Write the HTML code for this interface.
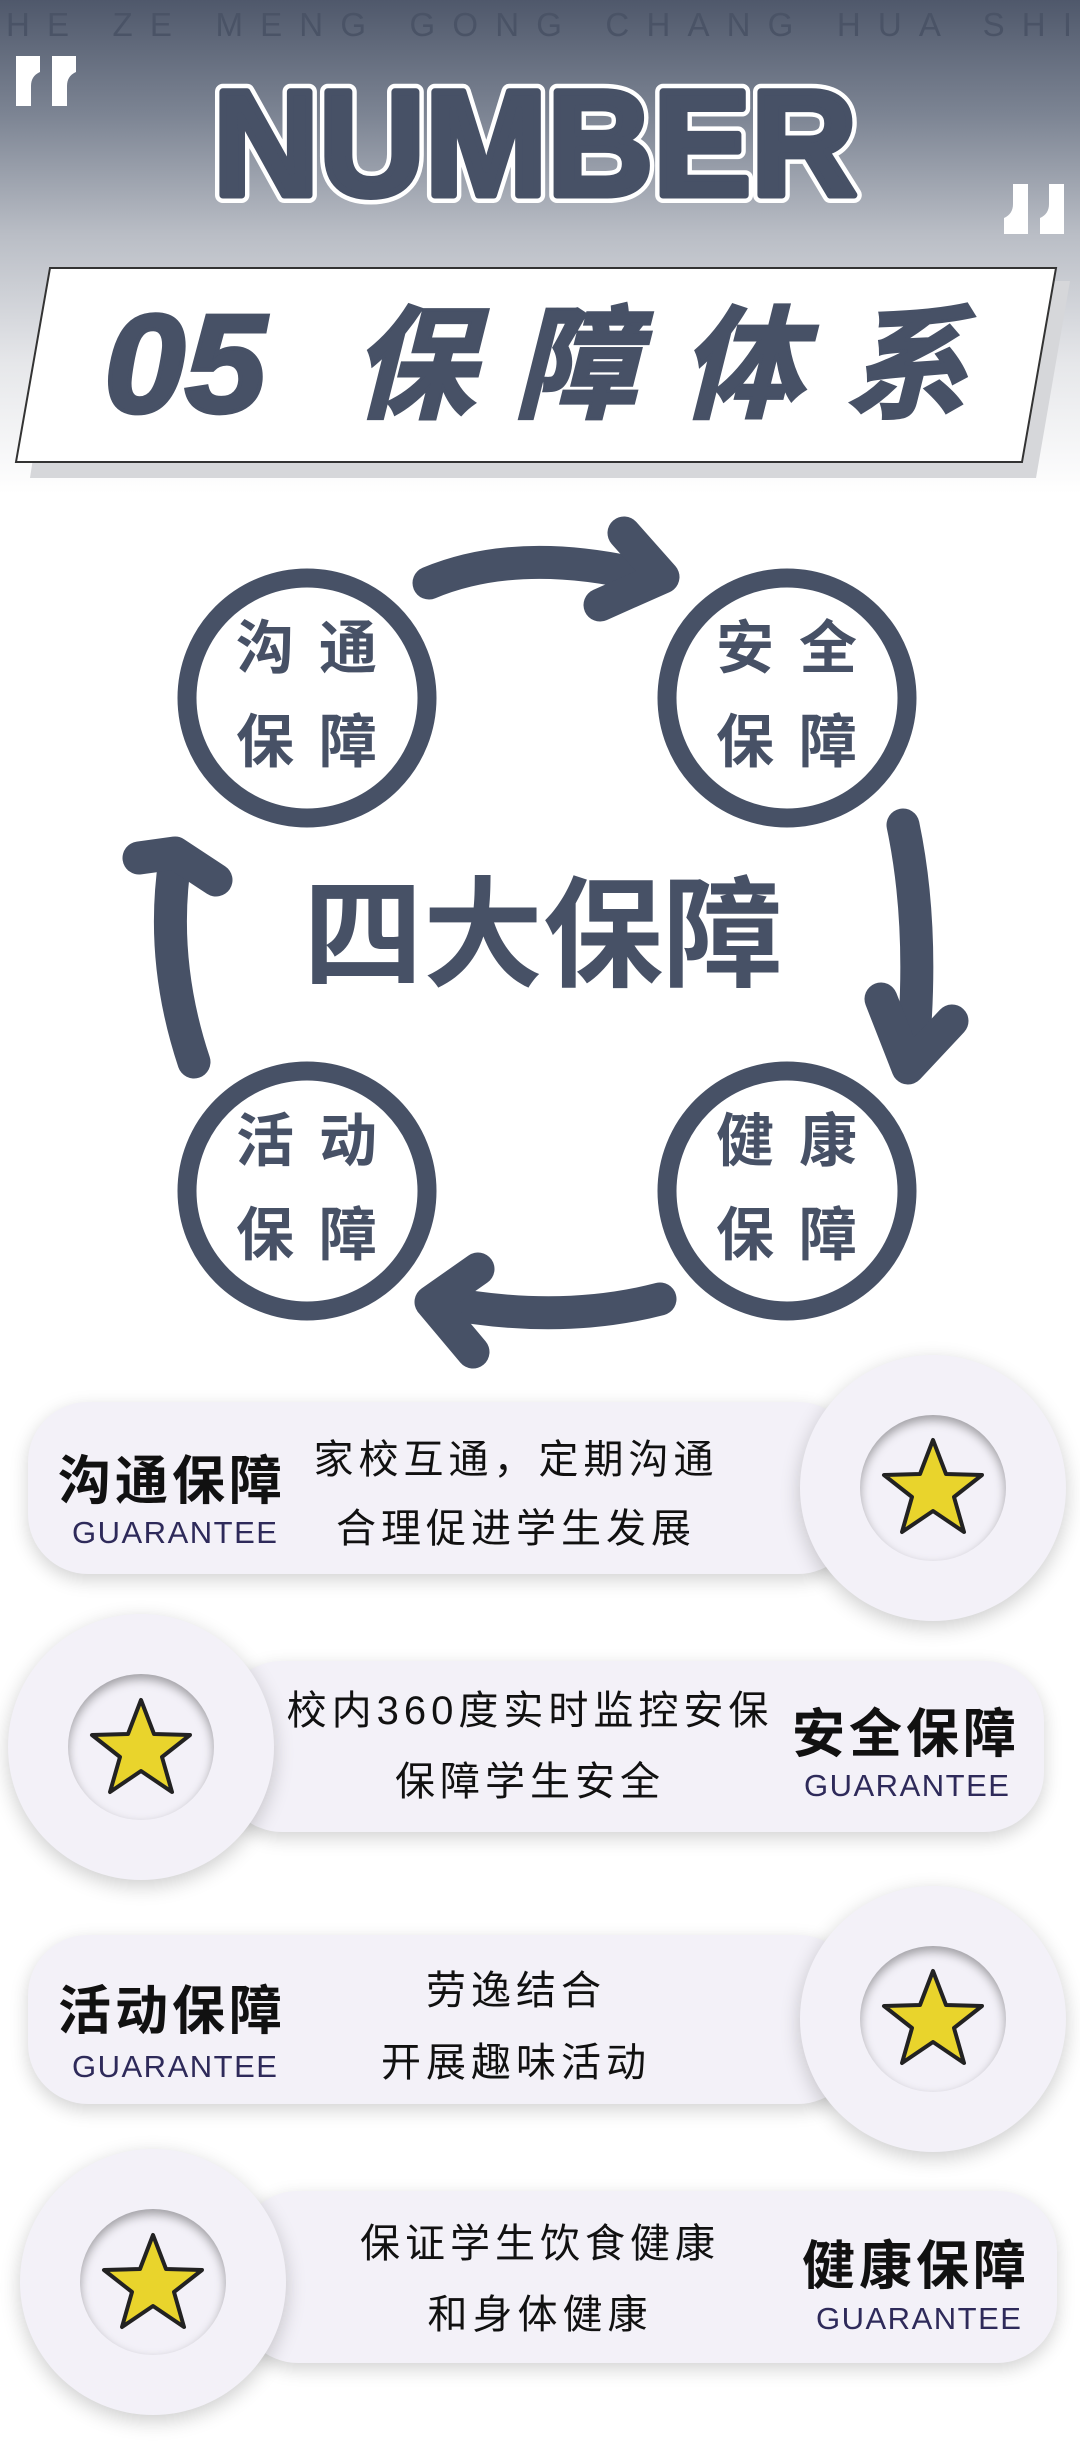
<!DOCTYPE html>
<html><head><meta charset="utf-8"><style>
*{margin:0;padding:0;box-sizing:border-box}
body{width:1080px;height:2451px;position:relative;background:#fff;overflow:hidden;font-family:"Liberation Sans","Noto Sans CJK SC",sans-serif}
.hdr{position:absolute;left:0;top:0;width:1080px;height:520px;background:linear-gradient(#4f586b 0%,#7c8493 22%,#b9bdc5 45%,#e6e7ea 70%,#fff 95%)}
.ct{position:absolute;font-size:58px;font-weight:bold;color:#475166;line-height:1}
.pill{position:absolute;background:#f3f1f8;border-radius:60px;box-shadow:0 6px 18px rgba(0,0,0,.18)}
.circ{position:absolute;width:266px;height:266px;border-radius:50%;background:#f3f1f8;box-shadow:0 6px 20px rgba(0,0,0,.2)}
.inn{position:absolute;left:60px;top:60px;width:146px;height:146px;border-radius:50%;background:#f3f1f8;box-shadow:inset 0 5px 10px rgba(0,0,0,.35)}
.t{position:absolute;font-size:53px;font-weight:bold;color:#111;white-space:nowrap;letter-spacing:4px;line-height:1}
.g{position:absolute;font-size:31px;color:#2e2a5a;letter-spacing:1.5px;white-space:nowrap;line-height:1;font-family:"Liberation Sans",sans-serif}
.d{position:absolute;font-size:40px;color:#111;white-space:nowrap;letter-spacing:5px;line-height:1;transform:translateX(-50%)}
</style></head><body>
<div class="hdr"></div>
<svg style="position:absolute;left:0;top:0" width="1080" height="520">
<text x="6" y="36" font-size="33" fill="#4a5366" font-family="Liberation Sans,sans-serif" textLength="1066" lengthAdjust="spacing">HE ZE MENG GONG CHANG HUA SHI</text>
<g fill="#fff">
<path d="M16,56 h24 v16 q-9,4 -9,14 v20 h-15 v-28 q0,-14 0,-22z"/>
<path d="M52,56 h24 v16 q-9,4 -9,14 v20 h-15 v-28 q0,-14 0,-22z"/>
<path d="M1064,234 h-24 v-16 q9,-4 9,-14 v-20 h15 v28 q0,14 0,22z"/>
<path d="M1028,234 h-24 v-16 q9,-4 9,-14 v-20 h15 v28 q0,14 0,22z"/>
</g>
<g font-size="150" font-weight="bold" font-family="Liberation Sans,sans-serif">
<text x="213" y="195" textLength="644" lengthAdjust="spacingAndGlyphs" fill="none" stroke="#fff" stroke-width="16" stroke-linejoin="round">NUMBER</text>
<text x="213" y="195" textLength="644" lengthAdjust="spacingAndGlyphs" fill="#475166" stroke="#475166" stroke-width="7" stroke-linejoin="round">NUMBER</text>
</g>
<polygon points="60,281 1070,281 1036,478 30,478" fill="#d6d7da"/>
<polygon points="50,268 1056,268 1022,462 16,462" fill="#fff" stroke="#333" stroke-width="2"/>
<text x="104" y="412" font-size="140" font-weight="bold" font-style="italic" fill="#475166" stroke="#475166" stroke-width="4" font-family="Liberation Sans,sans-serif" textLength="162" lengthAdjust="spacingAndGlyphs">05</text>
<g font-size="122" font-weight="bold" font-style="italic" fill="#475166" stroke="#475166" stroke-width="3" font-family="Noto Sans CJK SC,sans-serif">
<text x="352" y="408">保</text><text x="515" y="408">障</text><text x="680" y="408">体</text><text x="845" y="408">系</text></g>
</svg>
<svg style="position:absolute;left:0;top:500px" width="1080" height="880">
<g fill="none" stroke="#475166" stroke-width="19">
<circle cx="307" cy="198" r="120"/><circle cx="787" cy="198" r="120"/>
<circle cx="307" cy="691" r="120"/><circle cx="787" cy="691" r="120"/>
</g>
<g fill="none" stroke="#475166" stroke-width="33" stroke-linecap="round" stroke-linejoin="round">
<path d="M429,83 Q520,45 650,77"/><path d="M624,33 L663,77 L600,105"/>
<path d="M903,325 Q925,430 912,560"/><path d="M881,499 L908,568 L952,521"/>
<path d="M660,799 Q560,825 440,802"/><path d="M478,769 L431,802 L473,852"/>
<path d="M194,562 Q160,460 175,360"/><path d="M139,358 L175,353 L216,380"/>
</g>
</svg>
<div class="ct" style="left:236px;top:620px">沟</div><div class="ct" style="left:319px;top:620px">通</div>
<div class="ct" style="left:236px;top:714px">保</div><div class="ct" style="left:319px;top:714px">障</div>
<div class="ct" style="left:716px;top:620px">安</div><div class="ct" style="left:799px;top:620px">全</div>
<div class="ct" style="left:716px;top:714px">保</div><div class="ct" style="left:799px;top:714px">障</div>
<div class="ct" style="left:236px;top:1113px">活</div><div class="ct" style="left:319px;top:1113px">动</div>
<div class="ct" style="left:236px;top:1207px">保</div><div class="ct" style="left:319px;top:1207px">障</div>
<div class="ct" style="left:716px;top:1113px">健</div><div class="ct" style="left:799px;top:1113px">康</div>
<div class="ct" style="left:716px;top:1207px">保</div><div class="ct" style="left:799px;top:1207px">障</div>
<div class="ct" style="left:303px;top:876px;font-size:120px;letter-spacing:0">四大保障</div>

<div class="pill" style="left:28px;top:1402px;width:830px;height:172px"></div>
<div class="circ" style="left:800px;top:1355px"><div class="inn"></div></div>
<div class="t" style="left:58px;top:1455px">沟通保障</div>
<div class="g" style="left:72px;top:1517px">GUARANTEE</div>
<div class="d" style="left:516px;top:1440px">家校互通，定期沟通</div>
<div class="d" style="left:516px;top:1509px">合理促进学生发展</div>

<div class="pill" style="left:222px;top:1661px;width:822px;height:171px"></div>
<div class="circ" style="left:8px;top:1614px"><div class="inn"></div></div>
<div class="t" style="left:792px;top:1708px">安全保障</div>
<div class="g" style="left:804px;top:1770px">GUARANTEE</div>
<div class="d" style="left:530px;top:1691px">校内360度实时监控安保</div>
<div class="d" style="left:530px;top:1762px">保障学生安全</div>

<div class="pill" style="left:28px;top:1935px;width:830px;height:169px"></div>
<div class="circ" style="left:800px;top:1886px"><div class="inn"></div></div>
<div class="t" style="left:58px;top:1985px">活动保障</div>
<div class="g" style="left:72px;top:2051px">GUARANTEE</div>
<div class="d" style="left:516px;top:1971px">劳逸结合</div>
<div class="d" style="left:516px;top:2043px">开展趣味活动</div>

<div class="pill" style="left:238px;top:2191px;width:819px;height:172px"></div>
<div class="circ" style="left:20px;top:2149px"><div class="inn"></div></div>
<div class="t" style="left:802px;top:2240px">健康保障</div>
<div class="g" style="left:816px;top:2303px">GUARANTEE</div>
<div class="d" style="left:540px;top:2224px">保证学生饮食健康</div>
<div class="d" style="left:540px;top:2295px">和身体健康</div>

<svg style="position:absolute;left:0;top:0" width="1080" height="2451">
<defs><polygon id="st" points="0,-50 13,-16 49,-15 21,7 31,42 0,21 -31,42 -21,7 -49,-15 -13,-16" fill="#e9d42c" stroke="#222" stroke-width="4" stroke-linejoin="round"/></defs>
<use href="#st" x="933" y="1490"/>
<use href="#st" x="141" y="1750"/>
<use href="#st" x="933" y="2021"/>
<use href="#st" x="153" y="2285"/>
</svg>
</body></html>
